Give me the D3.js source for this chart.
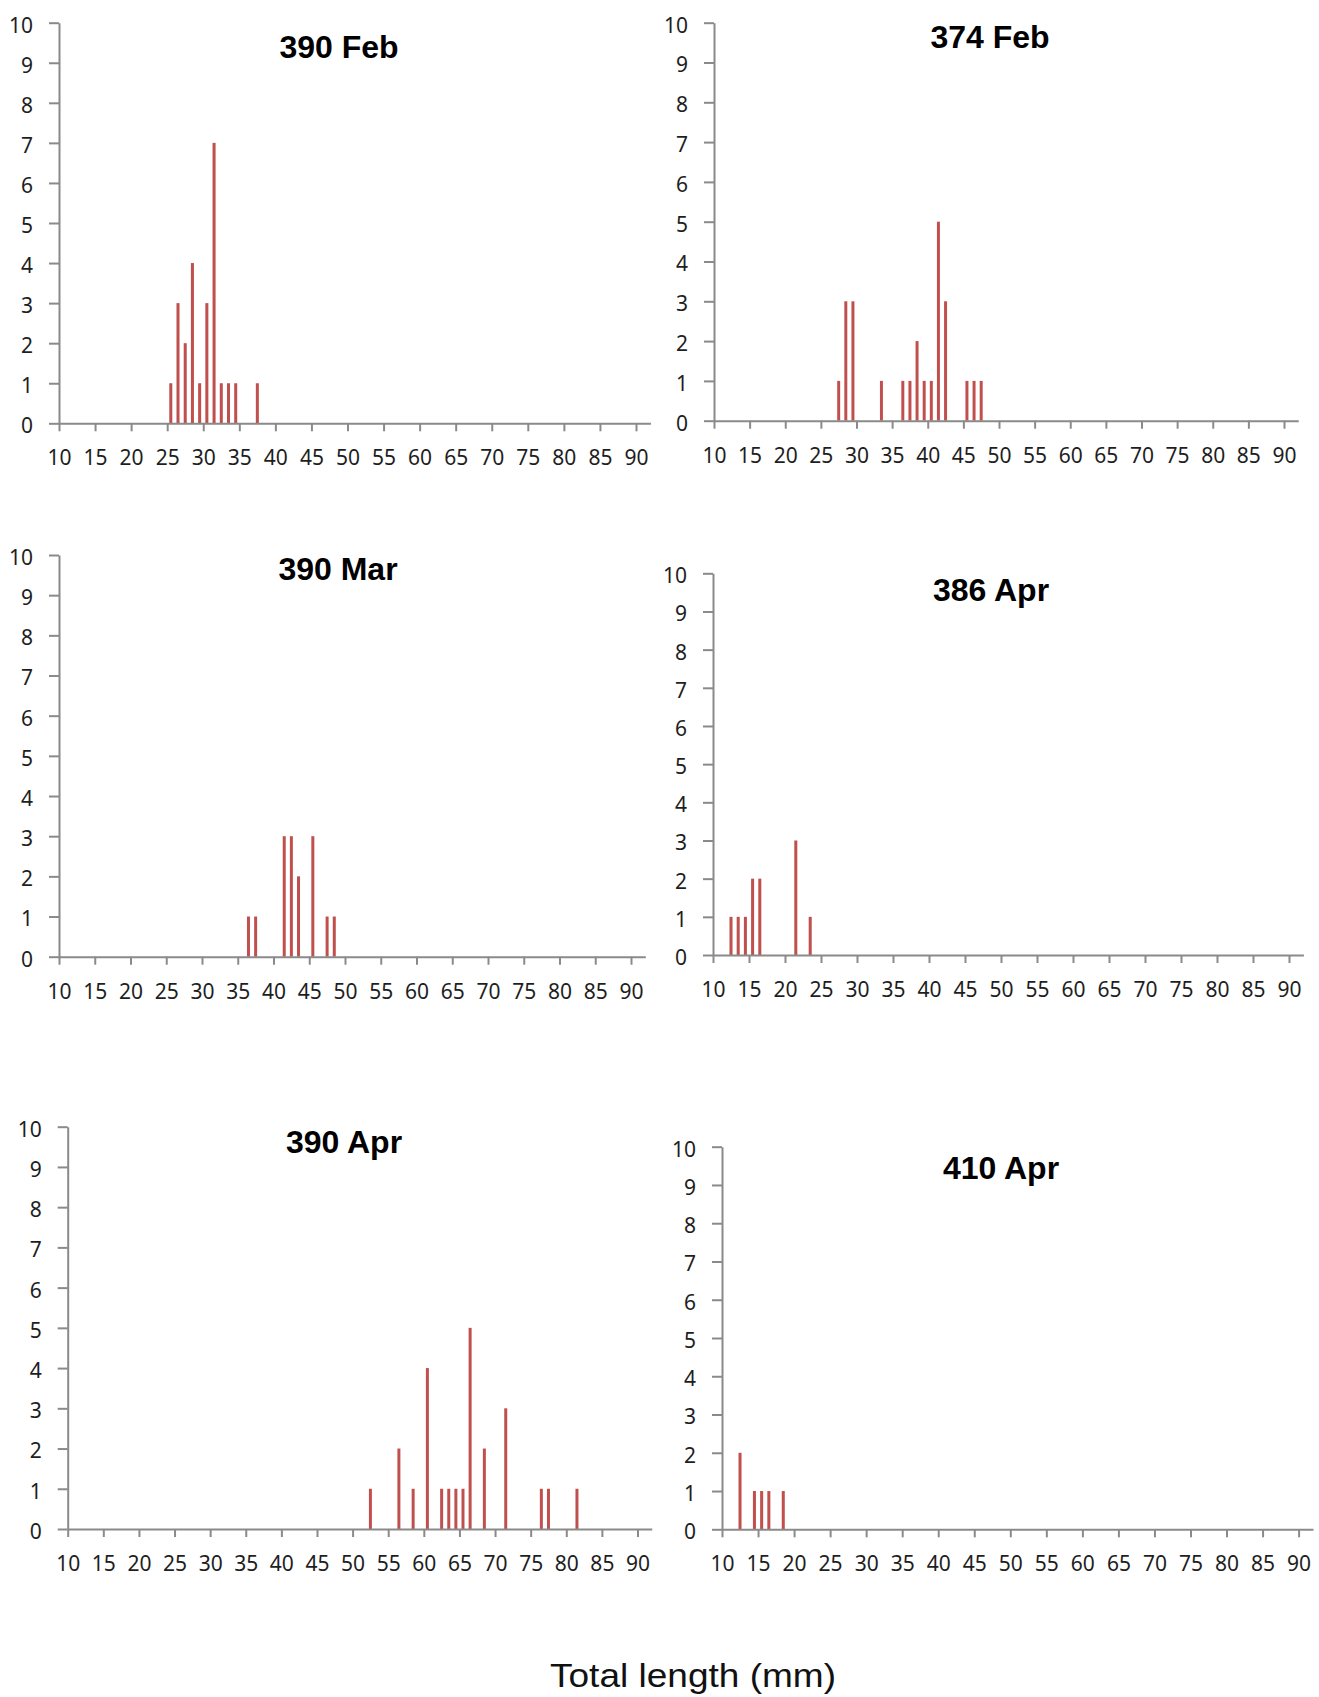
<!doctype html>
<html lang="en">
<head>
  <meta charset="utf-8">
  <title>Total length histograms</title>
  <script src="https://d3js.org/d3.v7.min.js"></script>
  <style>
    body { margin: 0; background: #fff; }
    .axis path, .axis line { stroke: #8a8a8a; stroke-width: 2; }
    .axis text { font-family: "Noto Sans", sans-serif; font-size: 21px; fill: #1e1e1e; }
    .title { font-family: "Liberation Sans", Arial, sans-serif; font-weight: bold; font-size: 32px; fill: #000; }
    .xlabel { font-family: "Liberation Sans", Arial, sans-serif; font-size: 33px; fill: #111; }
  </style>
</head>
<body>
<div id="chart"></div>
<script>
    // tick labels
    const xTicks = d3.range(10, 95, 5);
    const yTicks = d3.range(0, 11);

    // counts per total length (mm)
    const lenFeb390 = [25, 26, 27, 28, 29, 30, 31, 32, 33, 34, 37];
    const cntFeb390 = [1, 3, 2, 4, 1, 3, 7, 1, 1, 1, 1];

    const lenFeb374 = [27, 28, 29, 33, 36, 37, 38, 39, 40, 41, 42, 45, 46, 47];
    const cntFeb374 = [1, 3, 3, 1, 1, 1, 2, 1, 1, 5, 3, 1, 1, 1];

    const lenMar390 = [36, 37, 41, 42, 43, 45, 47, 48];
    const cntMar390 = [1, 1, 3, 3, 2, 3, 1, 1];

    const lenApr386 = [12, 13, 14, 15, 16, 21, 23];
    const cntApr386 = [1, 1, 1, 2, 2, 3, 1];

    const lenApr390 = [52, 56, 58, 60, 62, 63, 64, 65, 66, 68, 71, 76, 77, 81];
    const cntApr390 = [1, 2, 1, 4, 1, 1, 1, 1, 5, 2, 3, 1, 1, 1];

    const lenApr410 = [12, 14, 15, 16, 18];
    const cntApr410 = [2, 1, 1, 1, 1];

    // where each panel sits on the page
    const panels = [
        { title: '390 Feb', len: lenFeb390, cnt: cntFeb390, x0: 59, x90: 636, yTop: 22.7, yBot: 423.3, tx: 339, ty: 58 },
        { title: '374 Feb', len: lenFeb374, cnt: cntFeb374, x0: 714, x90: 1284, yTop: 22.7, yBot: 420.7, tx: 990, ty: 48 },
        { title: '390 Mar', len: lenMar390, cnt: cntMar390, x0: 59, x90: 631, yTop: 555, yBot: 956.7, tx: 338, ty: 580 },
        { title: '386 Apr', len: lenApr386, cnt: cntApr386, x0: 713, x90: 1289, yTop: 573.3, yBot: 955, tx: 991, ty: 601 },
        { title: '390 Apr', len: lenApr390, cnt: cntApr390, x0: 67.7, x90: 637.5, yTop: 1126.7, yBot: 1529, tx: 344, ty: 1153 },
        { title: '410 Apr', len: lenApr410, cnt: cntApr410, x0: 722, x90: 1298.6, yTop: 1146.7, yBot: 1529.3, tx: 1001, ty: 1179 },
    ];

    const svg = d3.select('#chart')
        .append('svg')
            .attr('width', 1319)
            .attr('height', 1697);

    svg.append('rect')
        .attr('width', 1319)
        .attr('height', 1697)
        .attr('fill', '#fff');

    panels.forEach(p => {
        const perUnit = (p.x90 - p.x0) / 80;
        const x = d3.scaleLinear()
            .domain([10, 92])
            .range([p.x0, p.x0 + perUnit * 82]);
        const y = d3.scaleLinear()
            .domain([0, 10])
            .range([p.yBot, p.yTop]);

        const g = svg.append('g');

        const bars = p.len.map((v, i) => ({ len: v, n: p.cnt[i] }));
        const bw = perUnit * 0.42;

        g.selectAll('.bar')
            .data(bars)
            .enter()
            .append('rect')
                .attr('class', 'bar')
                .attr('x', d => (x(d.len) + x(d.len + 1)) / 2 - bw / 2)
                .attr('y', d => y(d.n))
                .attr('width', bw)
                .attr('height', d => y(0) - y(d.n))
                .attr('fill', '#c0504d');

        g.append('g')
            .attr('class', 'axis')
            .attr('transform', 'translate(' + p.x0 + ',0)')
            .call(d3.axisLeft(y).tickValues(yTicks).tickSize(10).tickSizeOuter(0).tickPadding(16))
            .selectAll('text')
                .attr('dy', '0.45em');

        g.append('g')
            .attr('class', 'axis')
            .attr('transform', 'translate(0,' + p.yBot + ')')
            .call(d3.axisBottom(x).tickValues(xTicks).tickSize(8).tickSizeOuter(0).tickPadding(19));

        g.selectAll('.axis .domain').attr('stroke', '#8a8a8a');

        g.append('text')
            .attr('class', 'title')
            .attr('x', p.tx)
            .attr('y', p.ty)
            .attr('text-anchor', 'middle')
            .text(p.title);
    });

    svg.append('text')
        .attr('class', 'xlabel')
        .attr('x', 693)
        .attr('y', 1687)
        .attr('text-anchor', 'middle')
        .attr('textLength', 286)
        .attr('lengthAdjust', 'spacingAndGlyphs')
        .text('Total length (mm)');
</script>
</body>
</html>
